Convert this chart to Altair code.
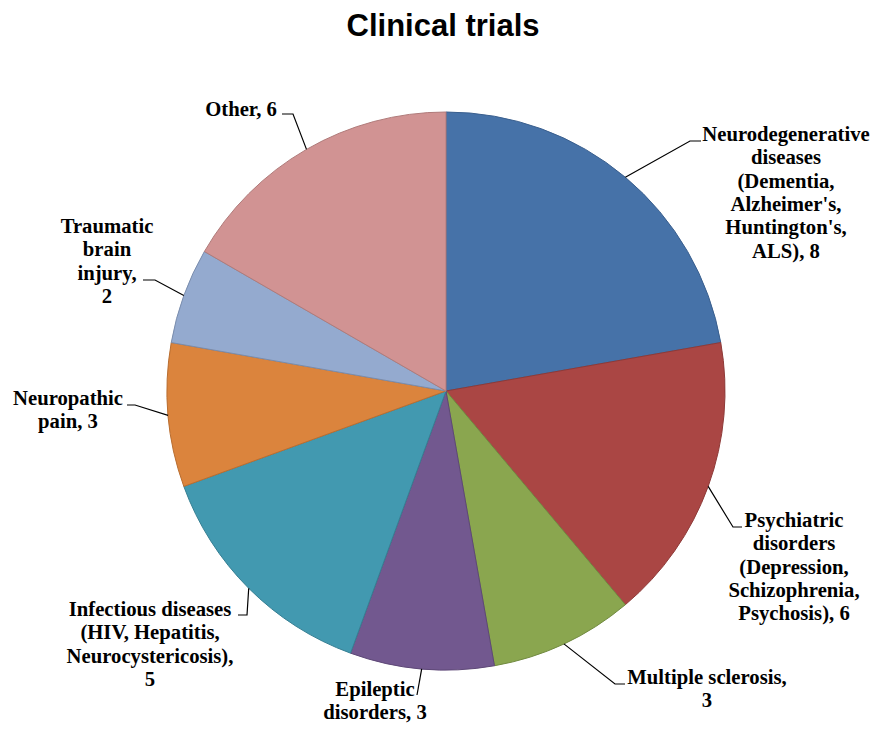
import math
import altair as alt
import pandas as pd

# ---- data ----
categories = [
    "Neurodegenerative\ndiseases\n(Dementia,\nAlzheimer's,\nHuntington's,\nALS)",
    "Psychiatric\ndisorders\n(Depression,\nSchizophrenia,\nPsychosis)",
    "Multiple sclerosis",
    "Epileptic\ndisorders",
    "Infectious diseases\n(HIV, Hepatitis,\nNeurocystericosis)",
    "Neuropathic\npain",
    "Traumatic\nbrain\ninjury",
    "Other",
]
values = [8, 6, 3, 3, 5, 3, 2, 6]
value_break = [" ", " ", "\n", " ", "\n", " ", "\n", " "]
title_text = "Clinical trials"

# ---- style / layout ----
colors = ["#4672A8", "#AA4644", "#8AA64F", "#72588F", "#4299B0", "#DB843D", "#94AACF", "#D19393"]
edge_colors = ["#3A5F8E", "#8E3A38", "#718A40", "#5E4877", "#367F93", "#B96E31", "#7A8DAD", "#B07B7A"]
label_xy = [(786, 141), (794, 527), (707, 684), (375, 696), (150, 616), (68, 405), (107, 233), (241, 116)]
elbow_xy = [(690, 141), (733, 527), (615, 684), (417, 695), (247, 615), (135, 405), (155, 280), (293, 114)]
end_xy = [(701, 141), (742, 527), (625, 684), (417, 695), (238, 615), (127, 405), (143, 280), (282, 114)]
cx, cy, R = 446, 391, 279
title_xy = (443, 36)

W, H = 871, 716
xs = alt.Scale(domain=[8, 8 + W], nice=False, zero=False)
ys = alt.Scale(domain=[8, 8 + H], nice=False, zero=False, reverse=True)

serif = "Liberation Serif, Times New Roman, DejaVu Serif, serif"

names = [c.replace("\n", " ") for c in categories]
labels = [c + "," + b + str(v) for c, b, v in zip(categories, value_break, values)]

pie_df = pd.DataFrame({
    "name": names,
    "value": values,
    "idx": list(range(len(values))),
    "cx": [cx] * len(values),
    "cy": [cy] * len(values),
})

total = sum(values)
lead_rows = []
cum = 0
for i, v in enumerate(values):
    mid = (cum + v / 2) / total * 2 * math.pi
    cum += v
    sx = cx + R * math.sin(mid)
    sy = cy - R * math.cos(mid)
    pts = [(sx, sy), elbow_xy[i], end_xy[i]]
    for j, (px, py) in enumerate(pts):
        lead_rows.append({"name": names[i], "k": j, "x": px, "y": py})
lead_df = pd.DataFrame(lead_rows)

lab_df = pd.DataFrame({
    "label": labels,
    "x": [p[0] for p in label_xy],
    "y": [p[1] for p in label_xy],
})
title_df = pd.DataFrame({"t": [title_text], "x": [title_xy[0]], "y": [title_xy[1]]})

pie = alt.Chart(pie_df).mark_arc(radius=R, strokeWidth=1).encode(
    theta=alt.Theta("value:Q", stack=True),
    order=alt.Order("idx:Q"),
    color=alt.Color("name:N", scale=alt.Scale(domain=names, range=colors), legend=None),
    stroke=alt.Stroke("name:N", scale=alt.Scale(domain=names, range=edge_colors), legend=None),
    x=alt.X("cx:Q", scale=xs, axis=None),
    y=alt.Y("cy:Q", scale=ys, axis=None),
)

leaders = alt.Chart(lead_df).mark_line(color="black", strokeWidth=1.2).encode(
    x=alt.X("x:Q", scale=xs, axis=None),
    y=alt.Y("y:Q", scale=ys, axis=None),
    detail="name:N",
    order="k:Q",
)

text = alt.Chart(lab_df).mark_text(
    font=serif, fontWeight="bold", fontSize=20.7, lineBreak="\n",
    lineHeight=23.3, align="center", baseline="alphabetic", color="black",
).encode(
    x=alt.X("x:Q", scale=xs, axis=None),
    y=alt.Y("y:Q", scale=ys, axis=None),
    text="label:N",
)

title = alt.Chart(title_df).mark_text(
    font="Liberation Sans", fontWeight="bold", fontSize=31, align="center",
    baseline="alphabetic", color="black",
).encode(
    x=alt.X("x:Q", scale=xs, axis=None),
    y=alt.Y("y:Q", scale=ys, axis=None),
    text="t:N",
)

chart = alt.layer(pie, leaders, text, title).properties(
    width=W, height=H, padding=0,
    autosize=alt.AutoSizeParams(type="none"),
).configure_view(stroke=None)

chart.save("out.html", embed_options={"renderer": "svg", "actions": False})
